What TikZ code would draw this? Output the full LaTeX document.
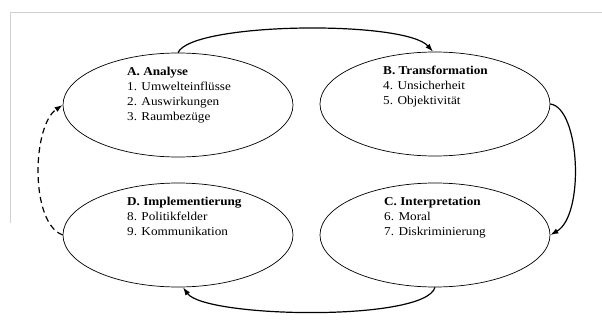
\documentclass[tikz,border=0pt]{standalone}
\usepackage{fontspec}
\setmainfont{Liberation Serif}[FakeStretch=1.1]
\usetikzlibrary{shapes.geometric,arrows.meta,calc}
\begin{document}
\begin{tikzpicture}[x=1pt,y=-1pt,
  phase/.style={ellipse,draw,line width=0.7pt,minimum width=230pt,minimum height=104pt,inner sep=0pt},
  txt/.style={anchor=north west,inner sep=0pt,align=left,font=\fontsize{12}{15}\selectfont},
  flow/.style={line width=1.2pt,-{Latex[length=8pt,width=5.5pt]}},
  back/.style={flow,dashed,dash pattern=on 6pt off 4pt}]
\useasboundingbox (0,0) rectangle (602,324);
\draw[gray!35,line width=0.6pt] (10,223) -- (10,12) -- (602,12);
\node[phase] (A) at (178,105) {};
\node[phase] (B) at (435,104) {};
\node[phase] (C) at (435,235) {};
\node[phase] (D) at (178,235) {};
\node[txt] (At) at ($(A.center)+(-51,-38)$) {\textbf{A. Analyse}\\1. Umwelteinflüsse\\2. Auswirkungen\\3. Raumbezüge};
\node[txt] (Bt) at ($(B.center)+(-52,-38)$) {\textbf{B. Transformation}\\4. Unsicherheit\\5. Objektivität};
\node[txt] (Ct) at ($(C.center)+(-51,-38)$) {\textbf{C. Interpretation}\\6. Moral\\7. Diskriminierung};
\node[txt] (Dt) at ($(D.center)+(-51,-38)$) {\textbf{D. Implementierung}\\8. Politikfelder\\9. Kommunikation};
\draw[flow] (A.north) .. controls (192,22) and (405,20) .. ([xshift=-2pt]B.north);
\draw[flow] (B.east) .. controls (580,108) and (585,215) .. (C.east);
\draw[flow] (C.south) .. controls (425,322) and (205,318) .. ([xshift=5pt]D.south);
\draw[back] (D.west) -- ++(-4,-2) .. controls (30,215) and (33,125) .. (A.west);
\end{tikzpicture}
\end{document}
